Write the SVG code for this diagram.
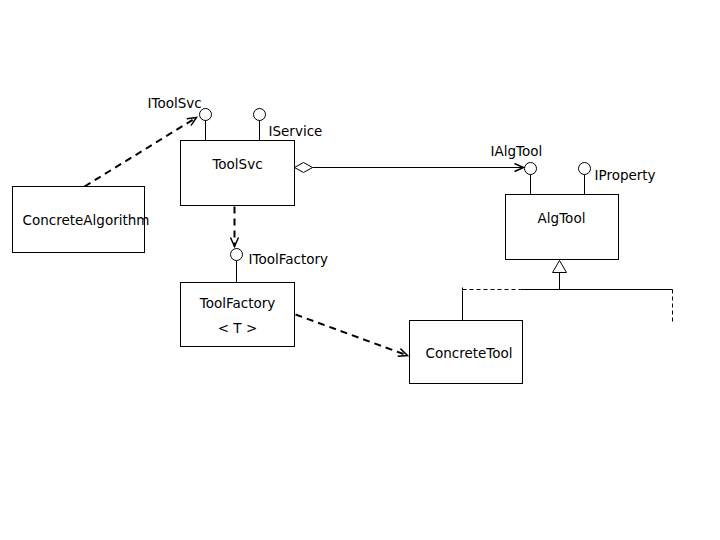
<svg xmlns="http://www.w3.org/2000/svg" width="720" height="540" viewBox="0 0 720 540">
<style>
.box{fill:#fff;stroke:#000;stroke-width:1}
.ln{fill:none;stroke:#000;stroke-width:1}
.dash{fill:none;stroke:#000;stroke-width:2;stroke-dasharray:7,5}
.thin-dash{fill:none;stroke:#000;stroke-width:1;stroke-dasharray:4,3}
text{font-family:"Comic Sans MS","DejaVu Sans","Liberation Sans",sans-serif;font-size:13.5px;fill:#000}
</style>
<defs>
<marker id="open" markerWidth="12" markerHeight="12" refX="10" refY="5" orient="auto" markerUnits="userSpaceOnUse">
<path d="M1,1 L10,5 L1,9" fill="none" stroke="#000" stroke-width="1.5"/>
</marker>
</defs>
<rect width="720" height="540" fill="#fff"/>
<g transform="translate(0.5,0.5)">
<g id="connectors">
<line class="dash" x1="84" y1="186" x2="196" y2="117" marker-end="url(#open)"/>
<line class="dash" x1="234" y1="206" x2="234" y2="246" marker-end="url(#open)"/>
<line class="dash" x1="295" y1="314" x2="407" y2="355" marker-end="url(#open)"/>
<path class="ln" d="M294,167 L303,162 L312,167 L303,172 Z"/>
<line class="ln" x1="312" y1="167" x2="523" y2="167" marker-end="url(#open)"/>
<path class="ln" d="M559,260 L566,272 L552,272 Z"/>
<line class="ln" x1="559" y1="272" x2="559" y2="289"/>
<line class="thin-dash" x1="462" y1="289" x2="520" y2="289"/>
<line class="ln" x1="520" y1="289" x2="672" y2="289"/>
<line class="thin-dash" x1="462" y1="287" x2="462" y2="290"/>
<line class="ln" x1="462" y1="290" x2="462" y2="320"/>
<line class="thin-dash" x1="672" y1="289" x2="672" y2="322"/>
</g>
<g id="ConcreteAlgorithm">
<rect class="box" x="12" y="186" width="132" height="66"/>
<text x="22" y="224">ConcreteAlgorithm</text>
</g>
<g id="ToolSvc">
<rect class="box" x="180" y="140" width="114" height="65"/>
<text x="237" y="168" text-anchor="middle">ToolSvc</text>
</g>
<g id="IToolSvc">
<circle class="ln" cx="205" cy="114" r="6"/>
<line class="ln" x1="205" y1="120" x2="205" y2="140"/>
<text x="147" y="107">IToolSvc</text>
</g>
<g id="IService">
<circle class="ln" cx="259" cy="114" r="6"/>
<line class="ln" x1="259" y1="120" x2="259" y2="140"/>
<text x="268" y="135">IService</text>
</g>
<g id="AlgTool">
<rect class="box" x="505" y="194" width="113" height="65"/>
<text x="561" y="222" text-anchor="middle">AlgTool</text>
</g>
<g id="IAlgTool">
<circle class="ln" cx="530" cy="168" r="6"/>
<line class="ln" x1="530" y1="174" x2="530" y2="194"/>
<text x="490" y="155">IAlgTool</text>
</g>
<g id="IProperty">
<circle class="ln" cx="584" cy="168" r="6"/>
<line class="ln" x1="584" y1="174" x2="584" y2="194"/>
<text x="594" y="179">IProperty</text>
</g>
<g id="ToolFactory">
<rect class="box" x="180" y="282" width="114" height="64"/>
<text x="237" y="307" text-anchor="middle">ToolFactory</text>
<text x="237" y="332" text-anchor="middle">&lt; T &gt;</text>
</g>
<g id="IToolFactory">
<circle class="ln" cx="236" cy="254" r="6"/>
<line class="ln" x1="236" y1="260" x2="236" y2="282"/>
<text x="248" y="263">IToolFactory</text>
</g>
<g id="ConcreteTool">
<rect class="box" x="409" y="320" width="113" height="63"/>
<text x="425" y="357">ConcreteTool</text>
</g>
</g>
</svg>
